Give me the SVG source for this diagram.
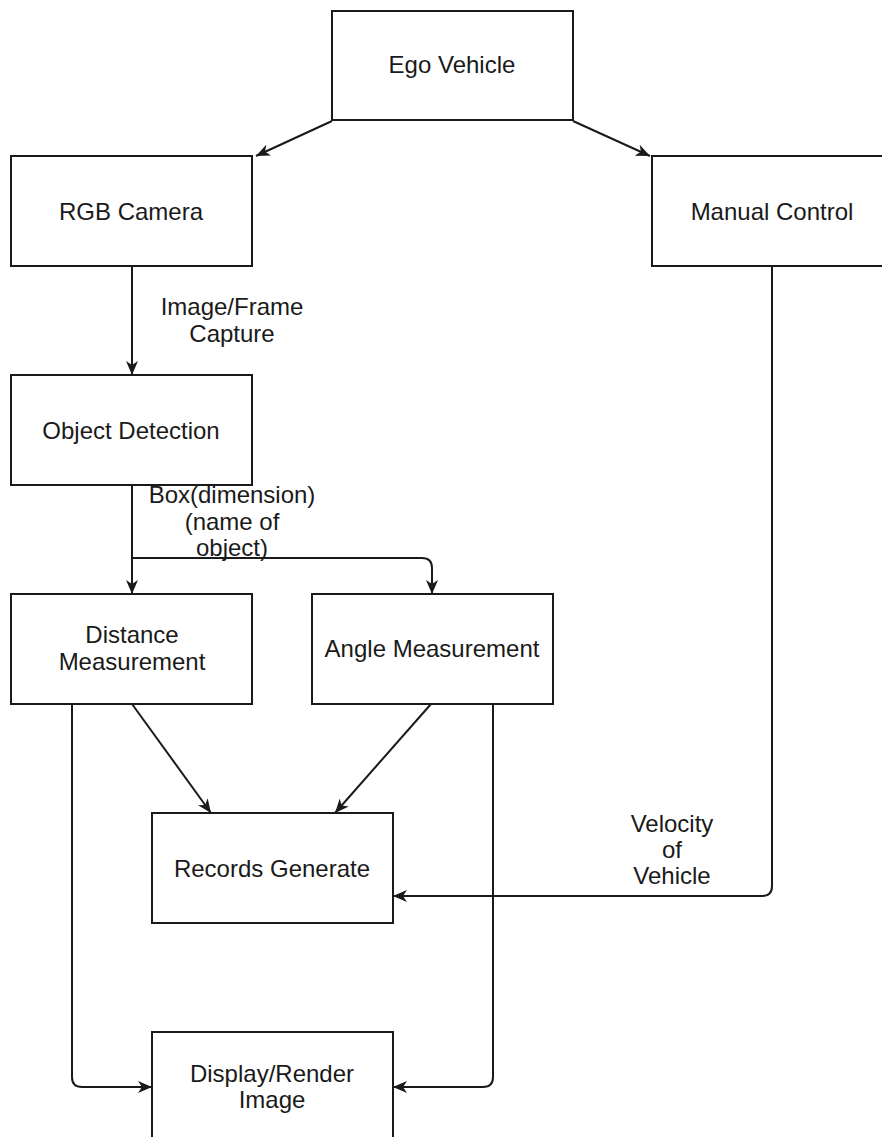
<svg xmlns="http://www.w3.org/2000/svg" width="882" height="1137" viewBox="0 0 882 1137">
<style>
.box{fill:#fff;stroke:#1a1a1a;stroke-width:2}
.t{font-family:"Liberation Sans",Arial,sans-serif;font-size:24px;fill:#1a1a1a;text-anchor:middle}
.c{fill:none;stroke:#1a1a1a;stroke-width:2}
.a{marker-end:url(#arr)}
</style>
<defs>
<marker id="arr" viewBox="0 0 14 12" refX="14" refY="6" markerWidth="14" markerHeight="12" markerUnits="userSpaceOnUse" orient="auto">
<path d="M0,0 L14,6 L0,12 L4,6 Z" fill="#1a1a1a"/>
</marker>
</defs>
<rect width="882" height="1137" fill="#fff"/>
<g id="connectors">
<path class="c a" d="M332,121 L256,156"/>
<path class="c a" d="M573,121 L650,156"/>
<path class="c a" d="M132,266 V375"/>
<path class="c a" d="M132,485 V594"/>
<path class="c a" d="M132,558 H422 Q432,558 432,568 V594"/>
<path class="c a" d="M132,704 L211,813"/>
<path class="c a" d="M431,704 L335,813"/>
<path class="c a" d="M72,704 V1077 Q72,1087 82,1087 H152"/>
<path class="c a" d="M493,704 V1077 Q493,1087 483,1087 H393"/>
<path class="c a" d="M772,266 V886 Q772,896 762,896 H393"/>
<text class="t" x="232" y="315">Image/Frame</text>
<text class="t" x="232" y="342">Capture</text>
<text class="t" x="232" y="503">Box(dimension)</text>
<text class="t" x="232" y="530">(name of</text>
<text class="t" x="232" y="556">object)</text>
<text class="t" x="672" y="832">Velocity</text>
<text class="t" x="672" y="858">of</text>
<text class="t" x="672" y="884">Vehicle</text>
</g>
<g id="ego"><rect class="box" x="332" y="11" width="241" height="109"/><text class="t" x="452" y="73">Ego Vehicle</text></g>
<g id="rgb"><rect class="box" x="11" y="156" width="241" height="110"/><text class="t" x="131" y="220">RGB Camera</text></g>
<g id="manual"><rect class="box" x="652" y="156" width="260" height="110"/><text class="t" x="772" y="220">Manual Control</text></g>
<g id="objdet"><rect class="box" x="11" y="375" width="241" height="110"/><text class="t" x="131" y="439">Object Detection</text></g>
<g id="distance"><rect class="box" x="11" y="594" width="241" height="110"/><text class="t" x="132" y="643">Distance</text><text class="t" x="132" y="670">Measurement</text></g>
<g id="angle"><rect class="box" x="312" y="594" width="241" height="110"/><text class="t" x="432" y="657">Angle Measurement</text></g>
<g id="records"><rect class="box" x="152" y="813" width="241" height="110"/><text class="t" x="272" y="877">Records Generate</text></g>
<g id="display"><rect class="box" x="152" y="1032" width="241" height="130"/><text class="t" x="272" y="1082">Display/Render</text><text class="t" x="272" y="1108">Image</text></g>
</svg>
